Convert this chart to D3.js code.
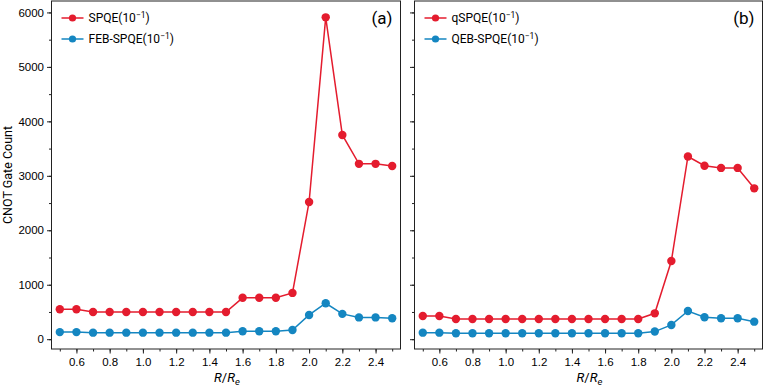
<!DOCTYPE html>
<html>
<head>
<meta charset="utf-8">
<script src="https://cdn.jsdelivr.net/npm/d3@7"></script>
<style>
  body { margin: 0; background: #fff; }
  svg { display: block; font-family: Roboto, "Liberation Sans", sans-serif; }
  .axis text { font-size: 11.5px; fill: #000; }
  .axis path, .axis line { stroke: #222; }
</style>
</head>
<body>
<svg id="chart" width="764" height="386"></svg>
<script>
// bond length ratio R/Re
const ratios = [0.5, 0.6, 0.7, 0.8, 0.9, 1.0, 1.1, 1.2, 1.3, 1.4, 1.5, 1.6, 1.7, 1.8, 1.9, 2.0, 2.1, 2.2, 2.3, 2.4, 2.5];

// panel (a)
const spqe    = [550, 550, 500, 500, 500, 500, 500, 500, 500, 500, 500, 760, 760, 760, 850, 2520, 5910, 3750, 3220, 3220, 3180];
const febSpqe = [130, 130, 120, 120, 120, 120, 120, 120, 120, 120, 120, 145, 145, 145, 170, 445, 660, 465, 400, 400, 385];

// panel (b)
const qSpqe   = [425, 425, 370, 370, 370, 370, 370, 370, 370, 370, 370, 370, 370, 370, 475, 1435, 3355, 3185, 3145, 3145, 2770];
const qebSpqe = [120, 120, 110, 110, 110, 110, 110, 110, 110, 110, 110, 110, 110, 110, 140, 262, 518, 402, 385, 385, 322];

const xTicks = [0.6, 0.8, 1.0, 1.2, 1.4, 1.6, 1.8, 2.0, 2.2, 2.4];
const yTicks = [0, 1000, 2000, 3000, 4000, 5000, 6000];

const RED = '#e41c2e';
const BLUE = '#1486c1';

const svg = d3.select('#chart');
const plotTop = 1, plotBottom = 349;

const y = d3.scaleLinear().domain([-180, 6210]).range([plotBottom, plotTop]);

const panels = [
  { left: 51.5, right: 400.5, tag: '(a)', labels: true,
    series: [{ name: 'SPQE', values: spqe, color: RED }, { name: 'FEB-SPQE', values: febSpqe, color: BLUE }] },
  { left: 414.5, right: 762.5, tag: '(b)', labels: false,
    series: [{ name: 'qSPQE', values: qSpqe, color: RED }, { name: 'QEB-SPQE', values: qebSpqe, color: BLUE }] }
];

panels.forEach(p => {
  const x = d3.scaleLinear().domain([0.45, 2.55]).range([p.left, p.right]);
  const g = svg.append('g');

  // minor ticks
  g.append('g').attr('class', 'axis')
    .attr('transform', `translate(0,${plotBottom})`)
    .call(d3.axisBottom(x).tickValues(d3.range(5, 26).map(d => d / 10)).tickSize(2.5).tickFormat(''))
    .call(s => s.select('.domain').remove());
  g.append('g').attr('class', 'axis')
    .attr('transform', `translate(${p.left},0)`)
    .call(d3.axisLeft(y).tickValues(d3.range(0, 6001, 500)).tickSize(2.5).tickFormat(''))
    .call(s => s.select('.domain').remove());

  // major ticks
  g.append('g').attr('class', 'axis')
    .attr('transform', `translate(0,${plotBottom})`)
    .call(d3.axisBottom(x).tickValues(xTicks).tickSize(4.5).tickPadding(4).tickFormat(d3.format('.1f')))
    .call(s => s.select('.domain').remove());
  g.append('g').attr('class', 'axis')
    .attr('transform', `translate(${p.left},0)`)
    .call(d3.axisLeft(y).tickValues(yTicks).tickSize(4.5).tickPadding(3)
      .tickFormat(p.labels ? d3.format('d') : ''))
    .call(s => s.select('.domain').remove());

  // frame
  g.append('rect')
    .attr('x', p.left).attr('y', plotTop)
    .attr('width', p.right - p.left).attr('height', plotBottom - plotTop)
    .attr('fill', 'none').attr('stroke', '#222').attr('stroke-width', 1);

  // series
  const line = d3.line().x((d, i) => x(ratios[i])).y(d => y(d));
  p.series.forEach(s => {
    g.append('path').datum(s.values)
      .attr('d', line).attr('fill', 'none')
      .attr('stroke', s.color).attr('stroke-width', 1.5);
    g.selectAll(null).data(s.values).enter().append('circle')
      .attr('cx', (d, i) => x(ratios[i])).attr('cy', d => y(d))
      .attr('r', 4.2).attr('fill', s.color);
  });

  // legend
  p.series.forEach((s, i) => {
    const ly = 18 + i * 21;
    const lx = p.left + 10;
    g.append('line').attr('x1', lx).attr('x2', lx + 22).attr('y1', ly).attr('y2', ly)
      .attr('stroke', s.color).attr('stroke-width', 1.5);
    g.append('circle').attr('cx', lx + 11).attr('cy', ly).attr('r', 3.6).attr('fill', s.color);
    const t = g.append('text').attr('x', lx + 27).attr('y', ly + 4.3)
      .attr('font-size', 12);
    t.append('tspan').text(s.name + '(10');
    t.append('tspan').attr('dy', -4.5).attr('font-size', 8.5).text('\u22121');
    t.append('tspan').attr('dy', 4.5).text(')');
  });

  // panel tag
  g.append('text').attr('x', p.right - 8).attr('y', 24)
    .attr('text-anchor', 'end').attr('font-size', 17).text(p.tag);

  // x label
  const xl = g.append('text')
    .attr('x', (p.left + p.right) / 2 + 1).attr('y', 382)
    .attr('text-anchor', 'middle').attr('font-size', 13);
  xl.append('tspan').attr('font-style', 'italic').text('R');
  xl.append('tspan').text('/');
  xl.append('tspan').attr('font-style', 'italic').text('R');
  xl.append('tspan').attr('font-style', 'italic').attr('font-size', 9.5).attr('dy', 3).text('e');
});

// y label
svg.append('text')
  .attr('transform', `translate(12,${(plotTop + plotBottom) / 2}) rotate(-90)`)
  .attr('text-anchor', 'middle').attr('font-size', 12.5)
  .text('CNOT Gate Count');
</script>
</body>
</html>
